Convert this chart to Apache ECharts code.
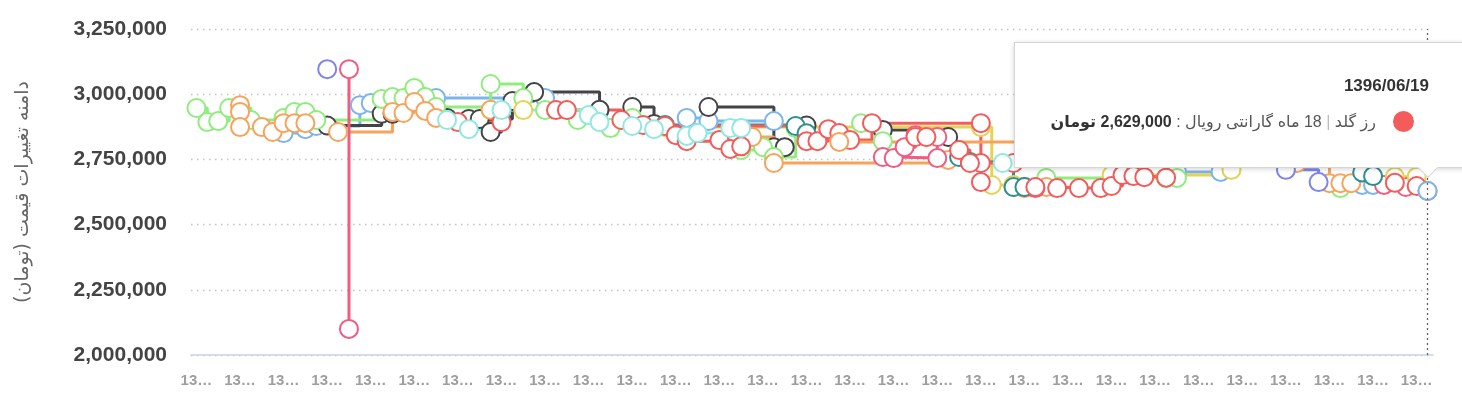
<!DOCTYPE html>
<html><head><meta charset="utf-8">
<script src="https://cdn.jsdelivr.net/npm/echarts/dist/echarts.min.js"></script>
<style>html,body{margin:0;padding:0;overflow:hidden;background:#fff}#c{width:1462px;height:398px;overflow:hidden;position:relative}</style>
</head><body><div id="c"></div>
<script>
const categories = [
'1396/02/30','1396/02/31',
'1396/03/01','1396/03/02','1396/03/03','1396/03/04','1396/03/05','1396/03/06','1396/03/07','1396/03/08','1396/03/09','1396/03/10',
'1396/03/11','1396/03/12','1396/03/13','1396/03/14','1396/03/15','1396/03/16','1396/03/17','1396/03/18','1396/03/19','1396/03/20',
'1396/03/21','1396/03/22','1396/03/23','1396/03/24','1396/03/25','1396/03/26','1396/03/27','1396/03/28','1396/03/29','1396/03/30','1396/03/31',
'1396/04/01','1396/04/02','1396/04/03','1396/04/04','1396/04/05','1396/04/06','1396/04/07','1396/04/08','1396/04/09','1396/04/10',
'1396/04/11','1396/04/12','1396/04/13','1396/04/14','1396/04/15','1396/04/16','1396/04/17','1396/04/18','1396/04/19','1396/04/20',
'1396/04/21','1396/04/22','1396/04/23','1396/04/24','1396/04/25','1396/04/26','1396/04/27','1396/04/28','1396/04/29','1396/04/30','1396/04/31',
'1396/05/01','1396/05/02','1396/05/03','1396/05/04','1396/05/05','1396/05/06','1396/05/07','1396/05/08','1396/05/09','1396/05/10',
'1396/05/11','1396/05/12','1396/05/13','1396/05/14','1396/05/15','1396/05/16','1396/05/17','1396/05/18','1396/05/19','1396/05/20',
'1396/05/21','1396/05/22','1396/05/23','1396/05/24','1396/05/25','1396/05/26','1396/05/27','1396/05/28','1396/05/29','1396/05/30','1396/05/31',
'1396/06/01','1396/06/02','1396/06/03','1396/06/04','1396/06/05','1396/06/06','1396/06/07','1396/06/08','1396/06/09','1396/06/10',
'1396/06/11','1396/06/12','1396/06/13','1396/06/14','1396/06/15','1396/06/16','1396/06/17','1396/06/18','1396/06/19'
];
const yMin = 2000000, yMax = 3250000, yStep = 250000;
const yAxisName = 'دامنه تغییرات قیمت (تومان)';
const tooltipSeriesName = 'رز گلد | 18 ماه گارانتی رویال';
const unit = 'تومان';

// each array = list of [categoryIndex, price] step segments
const blue = [
  [[8,2851000],[10,2866000],[11,2878000],[15,2958000],[16,2966000]],
  [[22,2985000],[32,2985000]],
  [[45,2909000],[47,2897000],[53,2897000]],
  [[90,2702000],[94,2702000]],
  [[107,2652000],[108,2652000]]
];
const black = [
  [[12,2880000],[17,2925000],[18,2925000]],
  [[23,2909000],[25,2905000],[26,2905000],[27,2855000],[28,2905000],[29,2974000],[31,3008000],[37,2940000]],
  [[40,2951000],[42,2886000]],
  [[47,2951000],[53,2797000],[54,2797000]],
  [[56,2880000]],
  [[63,2863000],[69,2836000]]
];
const green = [
  [[0,2947000],[1,2893000],[2,2897000],[3,2947000],[5,2901000],[8,2909000],[9,2932000],[10,2932000],[11,2901000],[17,2982000],[18,2989000],[19,2985000],[20,3024000],[21,2989000],[22,2951000],[27,3039000],[30,2985000],[32,2939000],[35,2901000],[38,2870000],[40,2909000]],
  [[50,2786000],[52,2797000],[53,2759000],[55,2870000]],
  [[61,2889000],[63,2820000]],
  [[78,2679000],[89,2679000],[90,2679000]],
  [[105,2640000]]
];
const orange = [
  [[4,2958000],[4,2932000],[4,2874000],[6,2874000],[7,2855000],[8,2889000],[9,2889000],[10,2889000],[13,2855000],[18,2932000],[19,2928000],[20,2970000],[21,2936000],[22,2909000],[27,2940000]],
  [[51,2836000],[53,2736000],[69,2748000]],
  [[75,2644000],[76,2640000],[78,2644000]],
  [[101,2736000],[104,2659000],[105,2659000],[106,2659000]]
];
const purple = [
  [[12,3096000]],
  [[100,2710000],[103,2663000]]
];
const pink = [
  [[14,3096000],[14,2100000]],
  [[63,2759000],[64,2755000],[68,2755000],[68,2836000]],
  [[65,2797000],[66,2843000]],
  [[76,2644000],[77,2640000]],
  [[109,2652000],[111,2644000]]
];
const yellow = [
  [[30,2939000]],
  [[43,2874000],[72,2874000],[73,2652000],[75,2652000]],
  [[67,2836000]],
  [[84,2690000],[95,2710000]],
  [[110,2683000],[112,2683000]]
];
const teal = [
  [[43,2882000],[55,2878000],[56,2850000]],
  [[70,2759000],[71,2740000],[75,2644000],[76,2644000]],
  [[107,2700000],[108,2686000]]
];
const red = [
  [[24,2893000],[28,2893000]],
  [[33,2939000],[34,2939000],[39,2901000],[41,2882000]],
  [[43,2878000],[56,2820000]],
  [[44,2843000],[45,2820000],[48,2824000],[49,2790000],[50,2800000]],
  [[57,2820000],[58,2866000],[59,2851000],[60,2824000],[62,2889000],[72,2889000],[72,2736000],[75,2736000]],
  [[66,2836000],[67,2836000]],
  [[70,2786000],[71,2736000],[72,2663000]],
  [[77,2644000],[79,2640000],[81,2640000],[83,2640000],[84,2648000],[85,2690000],[86,2686000],[87,2682000],[89,2680000]],
  [[110,2660000],[112,2648000]]
];
const redHovered = [[113,2629000]];
const cyan = [
  [[23,2901000],[25,2866000],[28,2939000],[36,2920000],[37,2893000],[40,2878000],[42,2866000],[45,2840000],[46,2851000],[49,2870000],[50,2870000]],
  [[74,2736000]]
];
const orange2 = [
  [[59,2817000],[93,2817000]]
];
const blueLast = [[113,2629000]];

const groups = [
  {c:'#7cb5ec', s:blue}, {c:'#434348', s:black}, {c:'#90ed7d', s:green}, {c:'#f7a35c', s:orange},
  {c:'#8085e9', s:purple}, {c:'#f15c80', s:pink}, {c:'#e4d354', s:yellow}, {c:'#2b908f', s:teal},
  {c:'#f45b5b', s:red}, {c:'#91e8e1', s:cyan}, {c:'#f7a35c', s:orange2}
];
const series = [];
function mk(color, data, name) {
  return {
    type:'line', step:'end', name: name || '', data: data,
    symbol:'emptyCircle', symbolSize:18, showAllSymbol:true,
    lineStyle:{color:color, width:3},
    itemStyle:{color:color, borderColor:color, borderWidth:1.6},
    emphasis:{disabled:true}, animation:false
  };
}
groups.forEach(g => g.s.forEach(seg => series.push(mk(g.c, seg))));
const hoverIdx = series.length;
const hs = mk('#f45b5b', redHovered, tooltipSeriesName);
hs.markLine = {silent:true, symbol:'none', animation:false, label:{show:false},
  lineStyle:{type:[2,3], color:'#666', width:1.3}, data:[{xAxis:113}]};
series.push(hs);
series.push(mk('#7cb5ec', blueLast));

const fmt = v => String(v).replace(/\B(?=(\d{3})+(?!\d))/g, ',');
const chart = echarts.init(document.getElementById('c'));
chart.setOption({
  animation:false,
  grid:{left:191, right:29, top:29, bottom:43, containLabel:false, outerBoundsMode:'none'},
  xAxis:{type:'category', data:categories, boundaryGap:true,
    axisLine:{lineStyle:{color:'#c6d3e8', width:1.5}},
    axisTick:{alignWithLabel:true, interval:3, length:13, lineStyle:{color:'#c6d3e8', width:1.5}},
    axisLabel:{interval:3, margin:18, color:'#9e9e9e', fontSize:15, fontWeight:'bold',
      fontFamily:'Liberation Sans, Arial, sans-serif', width:36, overflow:'truncate', ellipsis:'…'},
    splitLine:{show:false}},
  yAxis:{type:'value', min:yMin, max:yMax, interval:yStep,
    name:yAxisName, nameLocation:'middle', nameGap:158,
    nameTextStyle:{color:'#666', fontSize:19, fontFamily:'DejaVu Sans, sans-serif'},
    axisLine:{show:false}, axisTick:{show:false},
    axisLabel:{margin:24, color:'#444', fontSize:21, fontWeight:'bold', fontFamily:'Liberation Sans, Arial, sans-serif', formatter:fmt},
    splitLine:{lineStyle:{color:'#c4c4c4', width:1.3, type:[1.5,4.5]}}},
  tooltip:{trigger:'item', triggerOn:'none', alwaysShowContent:true, transitionDuration:0,
    padding:0, backgroundColor:'transparent', borderWidth:0, borderColor:'transparent',
    extraCssText:'box-shadow:none;border-radius:0;',
    position:function(){return [1014, 42];},
    formatter:function(p){
      const date = categories[p.value[0]];
      return '<div style="position:relative;width:452px;height:126px;box-sizing:border-box;background:#fff;border:1px solid #d6d6d6;box-shadow:0 1px 5px rgba(0,0,0,0.18);direction:rtl;font-family:\'Liberation Sans\',\'DejaVu Sans\',sans-serif;">'
        + '<div style="position:absolute;right:36px;top:33px;line-height:20px;font-size:17px;font-weight:bold;color:#333;direction:ltr;">' + date + '</div>'
        + '<div style="position:absolute;right:51px;top:66px;line-height:24px;font-size:16px;color:#555;white-space:nowrap;">'
        + '<span style="display:inline-block;width:21px;height:21px;border-radius:50%;background:' + p.color + ';vertical-align:middle;margin-left:17px;"></span>'
        + '<span style="vertical-align:middle;">' + p.seriesName.replace('|','<span style="color:#bbb">|</span>') + ' : </span>'
        + '<span style="vertical-align:middle;font-weight:bold;color:#333;">' + fmt(p.value[1]) + ' ' + unit + '</span>'
        + '</div>'
        + '<div style="position:absolute;left:406px;bottom:-8px;width:13px;height:13px;background:#fff;border-right:1px solid #d6d6d6;border-bottom:1px solid #d6d6d6;transform:rotate(45deg);"></div>'
        + '</div>';
    }},
  series:series
});
chart.dispatchAction({type:'showTip', seriesIndex:hoverIdx, dataIndex:0});
</script></body></html>
